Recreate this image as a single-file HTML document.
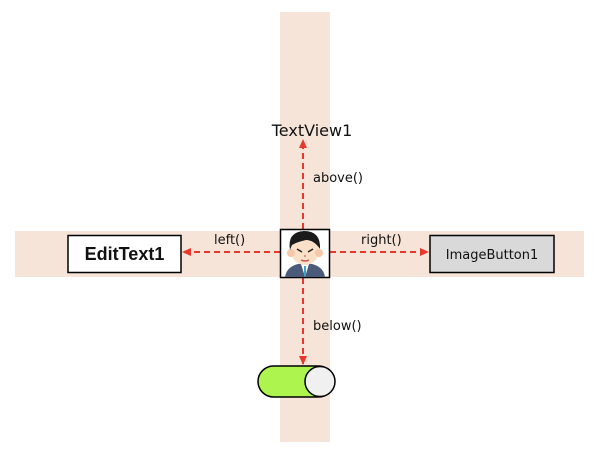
<!DOCTYPE html>
<html><head><meta charset="utf-8"><style>html,body{margin:0;padding:0;background:#fff}svg{display:block}</style></head>
<body>
<svg width="599" height="458" viewBox="0 0 599 458" xmlns="http://www.w3.org/2000/svg">
<defs>
<marker id="ah" markerWidth="10" markerHeight="10" refX="8" refY="5" orient="auto" markerUnits="userSpaceOnUse">
<path d="M0,1 L9,5 L0,9 Z" fill="#e8382b"/>
</marker>
</defs>
<rect x="280" y="12" width="50" height="430" fill="#f6e4d8"/>
<rect x="15" y="231" width="569" height="46" fill="#f6e4d8"/>
<g stroke="#e8382b" stroke-width="2" stroke-dasharray="6,4" fill="none">
<line x1="303" y1="229" x2="303" y2="140" marker-end="url(#ah)"/>
<line x1="303" y1="278" x2="303" y2="364" marker-end="url(#ah)"/>
<line x1="280" y1="252" x2="183" y2="252" marker-end="url(#ah)"/>
<line x1="330" y1="252" x2="428" y2="252" marker-end="url(#ah)"/>
</g>
<text x="312" y="136" font-family="DejaVu Sans, sans-serif" font-size="16" text-anchor="middle" fill="#111">TextView1</text>
<g font-family="DejaVu Sans, sans-serif" font-size="13" fill="#111">
<text x="313" y="182">above()</text>
<text x="313" y="330">below()</text>
<text x="214" y="244">left()</text>
<text x="361" y="244">right()</text>
</g>
<rect x="68" y="235.5" width="113" height="37" fill="#fff" stroke="#000" stroke-width="1.5"/>
<text x="124.5" y="260" font-family="Liberation Sans, sans-serif" font-size="18" font-weight="bold" text-anchor="middle" fill="#111">EditText1</text>
<rect x="430" y="235.5" width="124" height="37" fill="#d9d9d9" stroke="#000" stroke-width="1.5"/>
<text x="492" y="259" font-family="DejaVu Sans, sans-serif" font-size="13" text-anchor="middle" fill="#111">ImageButton1</text>
<rect x="280.5" y="229.5" width="49" height="48" fill="#fff" stroke="#000" stroke-width="1.5"/>
<!-- face -->
<path d="M285,277 Q287,264 305,263 Q323,264 325,277 Z" fill="#4a5a7a"/>
<path d="M301,264 L305,277 L309,264 Z" fill="#fff"/>
<line x1="305" y1="266" x2="305" y2="276" stroke="#3fa0c8" stroke-width="2"/>
<ellipse cx="305" cy="251" rx="14" ry="14" fill="#fbe0c8"/>
<circle cx="291" cy="253" r="4" fill="#f5c8a8"/>
<circle cx="319" cy="253" r="4" fill="#f5c8a8"/>
<path d="M290,250 Q287,232 304,231 Q321,231 320,249 Q314,240 306,240 Q297,242 292,245 Z" fill="#1a1a1a"/>
<line x1="297" y1="249" x2="302" y2="252" stroke="#222" stroke-width="1.5"/>
<line x1="313" y1="249" x2="308" y2="252" stroke="#222" stroke-width="1.5"/>
<circle cx="305" cy="256" r="1" fill="#d77"/>
<path d="M301,260 Q305,262 309,260" stroke="#c55" stroke-width="1.5" fill="none"/>
<!-- toggle -->
<rect x="258" y="366" width="76" height="31" rx="15.5" fill="#adf54e" stroke="#000" stroke-width="1.5"/>
<circle cx="320" cy="381.5" r="15" fill="#f0f0f0" stroke="#000" stroke-width="1.5"/>
</svg>
</body></html>
